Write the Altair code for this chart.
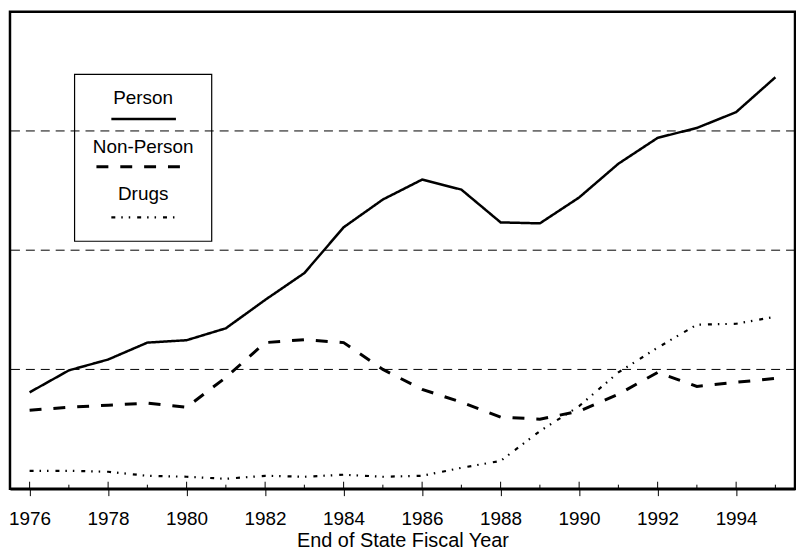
import altair as alt
import pandas as pd

years = list(range(1976, 1996))
person = [808, 992, 1083, 1225, 1245, 1345, 1583, 1808, 2192, 2425, 2592, 2508, 2233, 2225, 2442, 2725, 2942, 3025, 3158, 3450]
non_person = [658, 683, 700, 717, 683, 933, 1225, 1250, 1225, 1000, 833, 725, 600, 583, 650, 792, 975, 858, 892, 925]
drugs = [150, 150, 142, 108, 100, 83, 108, 100, 117, 100, 108, 175, 233, 483, 692, 975, 1183, 1375, 1383, 1442]

series_names = ["Person", "Non-Person", "Drugs"]
dashes = [[1, 0], [12, 12], [4, 6, 1.5, 6, 1.5, 7]]
widths = [2.5, 3, 2.2]
gridlines = [1000, 2000, 3000]
x_labels = list(range(1976, 1995, 2))

FONT = "Liberation Sans"

rows = []
for name, vals in zip(series_names, [person, non_person, drugs]):
    for y, v in zip(years, vals):
        rows.append({"year": y, "value": v, "series": name})
df = pd.DataFrame(rows)

xscale = alt.Scale(domain=[1975.5, 1995.5], nice=False, zero=False)
yscale = alt.Scale(domain=[0, 4000], nice=False)

xaxis = alt.Axis(values=x_labels, format="d", title="End of State Fiscal Year",
                 grid=False, domainColor="black", domainWidth=2.5,
                 tickColor="black", tickSize=7, tickWidth=1,
                 labelFont=FONT, labelFontSize=19, labelColor="black", labelPadding=14,
                 titleFont=FONT, titleFontSize=20, titleFontWeight="normal",
                 titleColor="black", titlePadding=2)

grid = alt.Chart(pd.DataFrame({"g": gridlines})).mark_rule(
    color="black", strokeWidth=1, strokeDash=[9, 6]
).encode(y=alt.Y("g:Q", scale=yscale, axis=None))

minor = alt.Chart(pd.DataFrame({"yr": list(range(1977, 1996, 2))})).mark_rule(
    color="black", strokeWidth=1
).encode(x=alt.X("yr:Q", scale=xscale, axis=xaxis), y=alt.value(480), y2=alt.value(476))

major_up = alt.Chart(pd.DataFrame({"yr": x_labels})).mark_rule(
    color="black", strokeWidth=1
).encode(x=alt.X("yr:Q", scale=xscale, axis=xaxis), y=alt.value(480), y2=alt.value(473))

layers = [grid, minor, major_up]
for name, d, w in zip(series_names, dashes, widths):
    layers.append(
        alt.Chart(df[df.series == name]).mark_line(
            color="black", strokeWidth=w, strokeDash=d
        ).encode(
            x=alt.X("year:Q", scale=xscale, axis=xaxis),
            y=alt.Y("value:Q", scale=yscale, axis=None),
        )
    )

# legend box
box = alt.Chart(pd.DataFrame({"a": [0]})).mark_rect(
    fill=None, stroke="black", strokeWidth=1.2
).encode(x=alt.value(65), x2=alt.value(203), y=alt.value(63), y2=alt.value(231))
layers.append(box)

leg_text_y = [87, 136, 183]
leg_line = [(102, 167, 108), (87, 174, 156), (102, 167, 207)]
for name, ty, (lx1, lx2, ly), d, w in zip(series_names, leg_text_y, leg_line, dashes, widths):
    layers.append(
        alt.Chart(pd.DataFrame({"t": [name]})).mark_text(
            font=FONT, fontSize=19, color="black", align="center", baseline="middle"
        ).encode(text="t:N", x=alt.value(134), y=alt.value(ty))
    )
    layers.append(
        alt.Chart(pd.DataFrame({"a": [0]})).mark_rule(
            color="black", strokeWidth=w, strokeDash=d
        ).encode(x=alt.value(lx1), x2=alt.value(lx2), y=alt.value(ly))
    )

chart = alt.layer(*layers).properties(
    width=790, height=480,
    padding={"left": 0, "right": 0, "top": 2, "bottom": 0},
    background="white",
).configure_view(stroke="black", strokeWidth=2.5)

chart.save("out.html", embed_options={"renderer": "svg", "actions": False})
